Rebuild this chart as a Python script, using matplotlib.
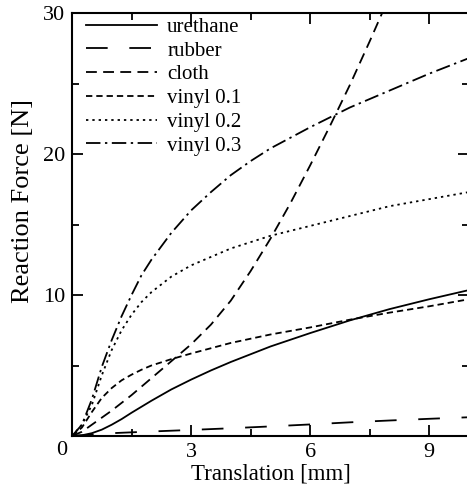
import matplotlib
matplotlib.use("Agg")
import matplotlib.pyplot as plt
import matplotlib.transforms as mtransforms

plt.rcParams['font.family'] = ['Liberation Serif', 'DejaVu Serif']

labels = ["urethane", "rubber", "cloth", "vinyl 0.1", "vinyl 0.2", "vinyl 0.3"]

x_ure = [0, 0.25, 0.5, 0.75, 1, 1.25, 1.5, 2, 2.5, 3, 3.5, 4, 4.5, 5, 6, 7, 8, 9, 10]
y_ure = [0, 0.05, 0.2, 0.45, 0.8, 1.2, 1.65, 2.5, 3.3, 4.0, 4.65, 5.25, 5.8, 6.35, 7.3, 8.2, 9.0, 9.7, 10.35]

x_rub = [0, 1, 2, 3, 4, 5, 6, 7, 8, 9, 10]
y_rub = [0, 0.2, 0.32, 0.43, 0.55, 0.68, 0.82, 0.97, 1.1, 1.22, 1.33]

x_clo = [0, 0.25, 0.5, 0.75, 1, 1.5, 2, 2.5, 3, 3.5, 4, 4.5, 5, 5.5, 6, 6.5, 7, 7.5, 8.0]
y_clo = [0, 0.3, 0.8, 1.3, 1.8, 2.9, 4.1, 5.3, 6.5, 7.9, 9.6, 11.7, 14.0, 16.5, 19.2, 22.0, 24.9, 28.0, 31.2]

x_v1 = [0, 0.25, 0.5, 0.75, 1, 1.25, 1.5, 1.75, 2, 2.5, 3, 4, 5, 6, 7, 8, 9, 10]
y_v1 = [0, 0.6, 1.7, 2.7, 3.4, 3.95, 4.35, 4.7, 5.0, 5.45, 5.85, 6.6, 7.2, 7.7, 8.25, 8.75, 9.2, 9.7]

x_v2 = [0, 0.25, 0.5, 0.75, 1, 1.25, 1.5, 1.75, 2, 2.5, 3, 4, 5, 6, 7, 8, 9, 10]
y_v2 = [0, 0.8, 2.2, 4.3, 6.1, 7.5, 8.6, 9.5, 10.2, 11.3, 12.1, 13.3, 14.2, 14.9, 15.6, 16.3, 16.8, 17.3]

x_v3 = [0, 0.25, 0.5, 0.75, 1, 1.25, 1.5, 1.75, 2, 2.5, 3, 3.5, 4, 4.5, 5, 6, 7, 8, 9, 10]
y_v3 = [0, 0.8, 2.6, 4.9, 6.8, 8.5, 10.0, 11.4, 12.5, 14.4, 16.0, 17.3, 18.5, 19.5, 20.4, 21.9, 23.3, 24.5, 25.7, 26.8]

xticks = [0, 3, 6, 9]
yticks = [0, 10, 20, 30]

fig = plt.figure(figsize=(4.67, 4.88), dpi=100)
W, H = 467, 488
ax = fig.add_axes([72 / W, (H - 436) / H, 397 / W, 423 / H])

lw = 1.3
ax.plot(x_ure, y_ure, color='black', lw=lw, ls='-', label=labels[0])
ax.plot(x_rub, y_rub, color='black', lw=lw, ls=(0, (12, 12)), label=labels[1])
ax.plot(x_clo, y_clo, color='black', lw=lw, ls=(0, (6, 3.5)), label=labels[2])
ax.plot(x_v1, y_v1, color='black', lw=lw, ls=(0, (3.5, 2.2)), label=labels[3])
ax.plot(x_v2, y_v2, color='black', lw=lw, ls=(0, (1.3, 2.2)), label=labels[4])
ax.plot(x_v3, y_v3, color='black', lw=lw, ls=(0, (8, 2.5, 1.3, 2.5)), label=labels[5])

ax.set_xlim(0, 10)
ax.set_ylim(0, 30)
ax.set_xticks(xticks)
ax.set_xticklabels(["", "3", "6", "9"])
ax.set_yticks(yticks)
ax.set_yticklabels(["", "10", "20", "30"])
ax.set_xticks([1.5, 4.5, 7.5], minor=True)
ax.set_yticks([5, 15, 25], minor=True)
ax.tick_params(which='both', direction='in', top=True, right=True, width=1.3,
               labelsize=16, pad=5)
ax.tick_params(which='major', length=8)
ax.tick_params(which='minor', length=5)
for s in ax.spines.values():
    s.set_linewidth(1.5)

# origin label
off = mtransforms.offset_copy(ax.transData, fig=fig, x=-10 / 100 * 72, y=-5 / 100 * 72, units='points')
ax.text(0, 0, "0", transform=off, ha='center', va='top', fontsize=16, clip_on=False)

ax.set_xlabel("Translation [mm]", fontsize=16.5, labelpad=1)
ax.set_ylabel("Reaction Force [N]", fontsize=19, labelpad=4)
ax.yaxis.set_label_coords(-0.095, 0.556)

leg = ax.legend(loc='upper left', frameon=False, fontsize=15, handlelength=3.4,
                handletextpad=0.5, labelspacing=0.2, borderaxespad=0.0, borderpad=0.0,
                bbox_to_anchor=(0.035, 0.99))

fig.savefig("out.png", dpi=100)
